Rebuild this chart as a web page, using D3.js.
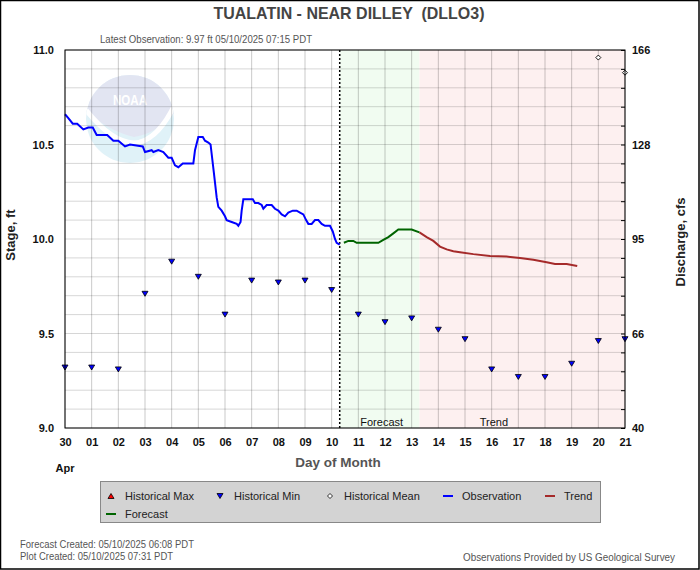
<!DOCTYPE html>
<html>
<head>
<meta charset="utf-8">
<script src="https://cdn.jsdelivr.net/npm/d3@7"></script>
<style>
  body { margin: 0; background: #fff; }
  svg { display: block; font-family: "Liberation Sans", Arial, sans-serif; }
</style>
</head>
<body>
<div id="chart"></div>
<script>
// stage readings, hours counted from Apr 30 00:00
const obsHours = [0, 3, 7, 11, 16.5, 21, 25, 28.5, 38, 43.5, 48, 54, 58.5, 70, 72, 78, 79.5, 84, 88.5, 93,
    96, 99, 102, 106, 115.5, 117, 120, 124, 126, 129, 131, 134, 136.5, 138, 141, 144, 145.5, 150, 154.5, 156,
    158, 159, 160.5, 162, 169, 171, 174, 177, 178.5, 181.5, 186, 189, 192, 195, 198, 201, 205, 208.5, 211.5, 214.5,
    217, 219, 222, 225, 228, 231, 234, 238.5, 241, 243, 244.5, 247.25];
const obsStage = [10.66, 10.64, 10.61, 10.61, 10.58, 10.59, 10.59, 10.55, 10.55, 10.52, 10.52, 10.49, 10.50, 10.49, 10.46, 10.47, 10.46, 10.47, 10.46, 10.43,
    10.43, 10.39, 10.38, 10.40, 10.40, 10.47, 10.54, 10.54, 10.52, 10.51, 10.50, 10.35, 10.22, 10.17, 10.15, 10.12, 10.10, 10.09, 10.08, 10.07,
    10.09, 10.15, 10.21, 10.21, 10.21, 10.19, 10.19, 10.18, 10.16, 10.18, 10.18, 10.16, 10.15, 10.13, 10.12, 10.14, 10.15, 10.15, 10.14, 10.13,
    10.10, 10.08, 10.08, 10.10, 10.10, 10.08, 10.07, 10.07, 10.04, 10.00, 9.98, 9.97];

const fcstHours = [251, 255, 259.5, 262.5, 267, 282, 286.5, 291, 295.5, 300, 312, 319];
const fcstStage = [9.98, 9.99, 9.99, 9.98, 9.98, 9.98, 9.995, 10.01, 10.03, 10.05, 10.05, 10.035];

const trendHours = [319, 325.5, 331.5, 337.5, 343.5, 349.5, 355.5, 367.5, 382.5, 397.5, 409.5, 421.5, 433.5, 441, 451.5, 461];
const trendStage = [10.035, 10.01, 9.99, 9.96, 9.945, 9.935, 9.93, 9.92, 9.91, 9.907, 9.90, 9.89, 9.877, 9.868, 9.868, 9.857];

// one historical minimum per day, Apr 30 .. May 21
const histMinStage = [9.32, 9.32, 9.31, 9.71, 9.88, 9.80, 9.60, 9.78, 9.77, 9.78, 9.73, 9.60, 9.56, 9.58, 9.52, 9.47,
    9.31, 9.27, 9.27, 9.34, 9.46, 9.47];
// historical mean: only the days that fall inside the plot
const histMeanDay = [20, 21];
const histMeanStage = [10.96, 10.88];

const stageTicks = [9.0, 9.5, 10.0, 10.5, 11.0];
const flowTickLabels = ["40", "66", "95", "128", "166"];

const obsEndHour = 247.25;   // 05/10 07:15
const fcstEndHour = 319;
const fcstLabelHour = 285;
const trendLabelHour = 386;

const W = 700, H = 570;
const margin = { top: 50, right: 75, bottom: 142, left: 65 };
const start = new Date(2025, 3, 30);
const end = new Date(2025, 4, 21);
const atHour = h => new Date(start.getTime() + h * 3600000);

const svg = d3.select("#chart").append("svg")
    .attr("width", W).attr("height", H);

svg.append("rect")
    .attr("x", 0.5).attr("y", 0.5).attr("width", W - 1.5).attr("height", H - 1.5)
    .attr("fill", "#fff").attr("stroke", "#000").attr("stroke-width", 1.5);

let x = d3.scaleTime().domain([start, end]).range([margin.left, W - margin.right]),
    y = d3.scaleLinear().domain([9, 11]).range([H - margin.bottom, margin.top]);

const pTop = y(11), pBottom = y(9), pLeft = x(start), pRight = x(end);

// forecast / trend shading
svg.append("rect")
    .attr("x", x(atHour(obsEndHour))).attr("y", pTop)
    .attr("width", x(atHour(fcstEndHour)) - x(atHour(obsEndHour))).attr("height", pBottom - pTop)
    .attr("fill", "#f1fcf1");
svg.append("rect")
    .attr("x", x(atHour(fcstEndHour))).attr("y", pTop)
    .attr("width", pRight - x(atHour(fcstEndHour))).attr("height", pBottom - pTop)
    .attr("fill", "#fdf0f0");

// NOAA watermark
let logo = svg.append("g").attr("opacity", 0.8);
svg.append("clipPath").attr("id", "logoClip")
    .append("circle").attr("cx", 130).attr("cy", 119).attr("r", 44);
logo.append("circle").attr("cx", 130).attr("cy", 119).attr("r", 44).attr("fill", "#d9eff7");
logo.append("path")
    .attr("clip-path", "url(#logoClip)")
    .attr("d", "M80,60 L180,60 L180,106 C166,124 152,134 134,137 C114,132 98,122 80,106 Z")
    .attr("fill", "#dcdff0");
logo.append("path")
    .attr("clip-path", "url(#logoClip)")
    .attr("d", "M86,110 C104,132 118,142 134,143 C150,142 164,128 176,102")
    .attr("fill", "none").attr("stroke", "#fff").attr("stroke-width", 5);
logo.append("text")
    .attr("x", 130).attr("y", 105).attr("text-anchor", "middle")
    .attr("textLength", 34).attr("lengthAdjust", "spacingAndGlyphs")
    .style("font-size", "14px").style("font-weight", "bold").attr("fill", "#fff")
    .text("NOAA");

// grid
let grid = svg.append("g");
grid.selectAll(".hgrid")
    .data(d3.range(90, 111).map(d => d / 10))
    .enter().append("line")
    .attr("x1", pLeft).attr("x2", pRight)
    .attr("y1", d => y(d)).attr("y2", d => y(d))
    .attr("stroke", "rgba(0,0,0,0.16)");
grid.selectAll(".vgrid")
    .data(d3.timeDay.range(start, d3.timeDay.offset(end, 1)))
    .enter().append("line")
    .attr("x1", d => x(d)).attr("x2", d => x(d))
    .attr("y1", pTop).attr("y2", pBottom)
    .attr("stroke", "rgba(0,0,0,0.21)");

// region labels
svg.append("text")
    .attr("x", x(atHour(fcstLabelHour))).attr("y", pBottom - 2)
    .attr("text-anchor", "middle").style("font-size", "11px").attr("fill", "#111")
    .text("Forecast");
svg.append("text")
    .attr("x", x(atHour(trendLabelHour))).attr("y", pBottom - 2)
    .attr("text-anchor", "middle").style("font-size", "11px").attr("fill", "#111")
    .text("Trend");

// now line
svg.append("line")
    .attr("x1", x(atHour(obsEndHour))).attr("x2", x(atHour(obsEndHour)))
    .attr("y1", pTop).attr("y2", pBottom)
    .attr("stroke", "#000").attr("stroke-width", 1.5).attr("stroke-dasharray", "2,2");

let line = d3.line()
    .x(d => x(atHour(d[0])))
    .y(d => y(d[1]));

svg.append("path")
    .attr("d", line(d3.zip(trendHours, trendStage)))
    .attr("fill", "none").attr("stroke", "#a52a2a").attr("stroke-width", 2);
svg.append("path")
    .attr("d", line(d3.zip(fcstHours, fcstStage)))
    .attr("fill", "none").attr("stroke", "#006400").attr("stroke-width", 2);
svg.append("path")
    .attr("d", line(d3.zip(obsHours, obsStage)))
    .attr("fill", "none").attr("stroke", "#0000ff").attr("stroke-width", 2);

// historical markers
const triDown = "M-3,-2.5 L3,-2.5 L0,2.5 Z";
const triUp = "M-3,2.5 L3,2.5 L0,-2.5 Z";
const diamond = "M0,-2.5 L2.5,0 L0,2.5 L-2.5,0 Z";

svg.selectAll(".hmin")
    .data(histMinStage)
    .enter().append("path")
    .attr("transform", (d, i) => "translate(" + x(d3.timeDay.offset(start, i)) + "," + y(d) + ")")
    .attr("d", triDown)
    .attr("fill", "#0000ff").attr("stroke", "#000").attr("stroke-width", 0.8);

svg.selectAll(".hmean")
    .data(histMeanStage)
    .enter().append("path")
    .attr("transform", (d, i) => "translate(" + x(d3.timeDay.offset(start, histMeanDay[i])) + "," + y(d) + ")")
    .attr("d", diamond)
    .attr("fill", "#fff").attr("stroke", "#000").attr("stroke-width", 0.9);

// frame
svg.append("rect")
    .attr("x", pLeft).attr("y", pTop).attr("width", pRight - pLeft).attr("height", pBottom - pTop)
    .attr("fill", "none").attr("stroke", "#000");

// axes
let yLeft = svg.append("g")
    .attr("transform", "translate(" + pLeft + ",0)")
    .call(d3.axisLeft(y).tickValues(stageTicks).tickFormat(d3.format(".1f")).tickSize(0).tickPadding(11));

let yRight = svg.append("g")
    .attr("transform", "translate(" + pRight + ",0)")
    .call(d3.axisRight(y).tickValues(stageTicks).tickFormat((d, i) => flowTickLabels[i]).tickSize(0).tickPadding(7));

svg.append("g")
    .attr("transform", "translate(" + pRight + ",0)")
    .call(d3.axisLeft(y).tickValues(d3.range(90, 111).map(d => d / 10)).tickFormat("").tickSize(4))
    .call(g => g.select(".domain").remove());

let xAxis = svg.append("g")
    .attr("transform", "translate(0," + pBottom + ")")
    .call(d3.axisBottom(x).ticks(d3.timeDay.every(1)).tickFormat(d3.timeFormat("%d")).tickSize(0).tickPadding(10));

[yLeft, yRight, xAxis].forEach(g => {
    g.select(".domain").remove();
    g.selectAll("text")
        .style("font-size", "11px").style("font-weight", "bold")
        .style("font-family", "'Liberation Sans', Arial, sans-serif").attr("fill", "#111");
});

svg.append("text")
    .attr("x", x(start)).attr("y", 472).attr("text-anchor", "middle")
    .style("font-size", "11px").style("font-weight", "bold").attr("fill", "#111")
    .text(d3.timeFormat("%b")(start));

// titles
svg.append("text")
    .attr("x", 349).attr("y", 19).attr("text-anchor", "middle")
    .attr("textLength", 271).attr("lengthAdjust", "spacingAndGlyphs")
    .style("white-space", "pre")
    .style("font-size", "17px").style("font-weight", "bold").attr("fill", "#444")
    .text("TUALATIN - NEAR DILLEY  (DLLO3)");

svg.append("text")
    .attr("x", 100).attr("y", 43)
    .attr("textLength", 212).attr("lengthAdjust", "spacingAndGlyphs")
    .style("font-size", "10px").attr("fill", "#555")
    .text("Latest Observation: 9.97 ft 05/10/2025 07:15 PDT");

svg.append("text")
    .attr("x", (pLeft + pRight) / 2 - 7).attr("y", 467).attr("text-anchor", "middle")
    .style("font-size", "13.5px").style("font-weight", "bold").attr("fill", "#555")
    .text("Day of Month");

svg.append("text")
    .attr("transform", "translate(15," + ((pTop + pBottom) / 2 - 4) + ") rotate(-90)")
    .attr("text-anchor", "middle")
    .style("font-size", "13px").style("font-weight", "bold").attr("fill", "#222")
    .text("Stage, ft");

svg.append("text")
    .attr("transform", "translate(685," + ((pTop + pBottom) / 2 + 3) + ") rotate(-90)")
    .attr("text-anchor", "middle")
    .style("font-size", "13px").style("font-weight", "bold").attr("fill", "#222")
    .text("Discharge, cfs");

// legend
let legend = svg.append("g");
legend.append("rect")
    .attr("x", 100.5).attr("y", 481.5).attr("width", 500).attr("height", 41)
    .attr("fill", "#d3d3d3").attr("stroke", "#888");

const legendItems = [
    { label: "Historical Max", kind: "mark", d: triUp, fill: "#ff0000", x: 111, y: 496 },
    { label: "Historical Min", kind: "mark", d: triDown, fill: "#0000ff", x: 220, y: 496 },
    { label: "Historical Mean", kind: "mark", d: diamond, fill: "#fff", x: 330, y: 496 },
    { label: "Observation", kind: "line", color: "#0000ff", x: 448, y: 496 },
    { label: "Trend", kind: "line", color: "#a52a2a", x: 550, y: 496 },
    { label: "Forecast", kind: "line", color: "#006400", x: 111, y: 514 }
];

legendItems.forEach(it => {
    if (it.kind === "mark")
        legend.append("path")
            .attr("transform", "translate(" + it.x + "," + it.y + ")")
            .attr("d", it.d).attr("fill", it.fill).attr("stroke", "#000").attr("stroke-width", 0.8);
    else
        legend.append("line")
            .attr("x1", it.x - 5).attr("x2", it.x + 5).attr("y1", it.y).attr("y2", it.y)
            .attr("stroke", it.color).attr("stroke-width", 2);
    legend.append("text")
        .attr("x", it.x + 14).attr("y", it.y + 3.5)
        .style("font-size", "11px").attr("fill", "#222")
        .text(it.label);
});

// footer
svg.append("text")
    .attr("x", 20).attr("y", 548)
    .attr("textLength", 174).attr("lengthAdjust", "spacingAndGlyphs")
    .style("font-size", "10px").attr("fill", "#555")
    .text("Forecast Created: 05/10/2025 06:08 PDT");
svg.append("text")
    .attr("x", 20).attr("y", 560)
    .attr("textLength", 153).attr("lengthAdjust", "spacingAndGlyphs")
    .style("font-size", "10px").attr("fill", "#555")
    .text("Plot Created: 05/10/2025 07:31 PDT");
svg.append("text")
    .attr("x", 463).attr("y", 561)
    .attr("textLength", 212).attr("lengthAdjust", "spacingAndGlyphs")
    .style("font-size", "10px").attr("fill", "#555")
    .text("Observations Provided by US Geological Survey");
</script>
</body>
</html>
